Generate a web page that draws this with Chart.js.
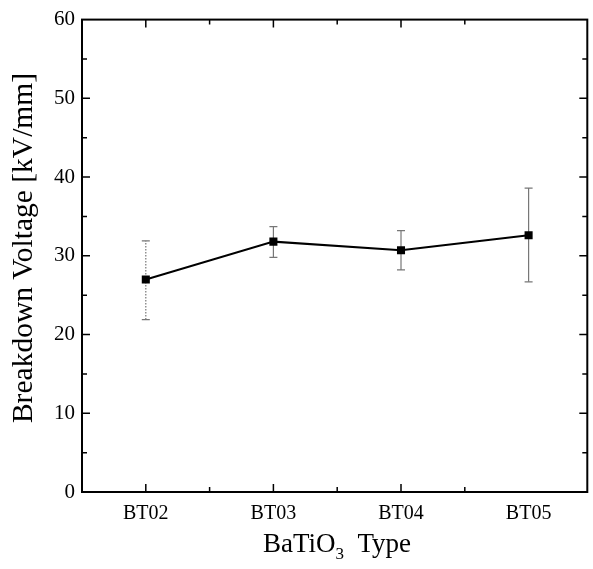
<!DOCTYPE html>
<html>
<head>
<meta charset="utf-8">
<script src="https://cdn.jsdelivr.net/npm/chart.js@4.4.1/dist/chart.umd.min.js"></script>
<style>
  body { margin: 0; background: #fff; }
  #wrap { width: 593px; height: 569px; }
</style>
</head>
<body>
<div id="wrap"><canvas id="myChart" width="593" height="569"></canvas></div>
<script>
// values
var types = ['BT02', 'BT03', 'BT04', 'BT05'];
var voltage = [27.0, 31.8, 30.7, 32.6];
var errLow = [21.9, 29.8, 28.2, 26.7];
var errHigh = [31.9, 33.7, 33.2, 38.6];
var yTicks = [0, 10, 20, 30, 40, 50, 60];

var serif = "'Liberation Serif', 'Times New Roman', serif";

// error bars, frame with inward ticks, axis titles
var extras = {
    id: 'extras',
    beforeDatasetsDraw: function (chart) {
        var ctx = chart.ctx, xs = chart.scales.x, ys = chart.scales.y;
        ctx.save();
        ctx.strokeStyle = '#777';
        ctx.lineWidth = 1.2;
        types.forEach(function (t, i) {
            var x = xs.getPixelForValue(i);
            var y1 = ys.getPixelForValue(errLow[i]);
            var y2 = ys.getPixelForValue(errHigh[i]);
            ctx.setLineDash(i === 0 ? [1.5, 1.5] : []);
            ctx.beginPath();
            ctx.moveTo(x, y1); ctx.lineTo(x, y2);
            ctx.stroke();
            ctx.setLineDash([]);
            ctx.beginPath();
            ctx.moveTo(x - 4, y1); ctx.lineTo(x + 4, y1);
            ctx.moveTo(x - 4, y2); ctx.lineTo(x + 4, y2);
            ctx.stroke();
        });
        ctx.restore();
    },
    afterDraw: function (chart) {
        var ctx = chart.ctx, a = chart.chartArea, xs = chart.scales.x, ys = chart.scales.y;
        ctx.save();
        ctx.strokeStyle = '#000';
        ctx.lineWidth = 2;
        ctx.strokeRect(a.left, a.top, a.right - a.left, a.bottom - a.top);

        ctx.lineWidth = 1.5;
        ctx.beginPath();
        for (var v = 0.5; v <= 3; v += 0.5) {
            var px = xs.getPixelForValue(v - 0.5);
            var len = Number.isInteger(v - 0.5) ? 8 : 5;
            ctx.moveTo(px, a.bottom); ctx.lineTo(px, a.bottom - len);
            ctx.moveTo(px, a.top); ctx.lineTo(px, a.top + len);
        }
        for (var yv = 5; yv < 60; yv += 5) {
            var py = ys.getPixelForValue(yv);
            var l2 = yv % 10 === 0 ? 8 : 5;
            ctx.moveTo(a.left, py); ctx.lineTo(a.left + l2, py);
            ctx.moveTo(a.right, py); ctx.lineTo(a.right - l2, py);
        }
        ctx.stroke();

        // x title with subscript
        ctx.fillStyle = '#000';
        ctx.textBaseline = 'alphabetic';
        ctx.textAlign = 'left';
        var big = '27px ' + serif, small = '17px ' + serif;
        ctx.font = big;
        var w1 = ctx.measureText('BaTiO').width;
        var w3 = ctx.measureText('  Type').width;
        ctx.font = small;
        var w2 = ctx.measureText('3').width;
        var x0 = 337 - (w1 + w2 + w3) / 2, base = 552;
        ctx.font = big;
        ctx.fillText('BaTiO', x0, base);
        ctx.font = small;
        ctx.fillText('3', x0 + w1, base + 7);
        ctx.font = big;
        ctx.fillText('  Type', x0 + w1 + w2, base);

        // y title
        ctx.translate(24, 248);
        ctx.rotate(-Math.PI / 2);
        ctx.textAlign = 'center';
        ctx.textBaseline = 'middle';
        ctx.font = '29.5px ' + serif;
        ctx.fillText('Breakdown Voltage [kV/mm]', 0, 0);
        ctx.restore();
    }
};

var ctx = document.getElementById('myChart').getContext('2d');
new Chart(ctx, {
    type: 'line',
    data: {
        datasets: [{
            data: voltage.map(function (v, i) { return { x: i, y: v }; }),
            borderColor: '#000',
            borderWidth: 2,
            backgroundColor: '#000',
            pointStyle: 'rect',
            pointRadius: 5.7,
            pointBorderWidth: 0,
            tension: 0
        }]
    },
    options: {
        responsive: false,
        animation: false,
        layout: { padding: { top: 17, right: 5, left: 0, bottom: 0 } },
        plugins: { legend: { display: false }, tooltip: { enabled: false } },
        scales: {
            x: {
                type: 'linear',
                min: -0.5,
                max: 3.46,
                grid: { display: false, drawTicks: false },
                border: { display: false },
                afterBuildTicks: function (scale) {
                    scale.ticks = types.map(function (t, i) { return { value: i }; });
                },
                afterFit: function (scale) { scale.height = 77; },
                ticks: {
                    padding: 10,
                    color: '#000',
                    font: { family: serif, size: 20 },
                    maxRotation: 0,
                    callback: function (value) { return types[value]; }
                }
            },
            y: {
                min: 0,
                max: 60,
                grid: { display: false, drawTicks: false },
                border: { display: false },
                afterBuildTicks: function (scale) {
                    scale.ticks = yTicks.map(function (v) { return { value: v }; });
                },
                afterFit: function (scale) { scale.width = 82; },
                ticks: {
                    padding: 7,
                    color: '#000',
                    font: { family: serif, size: 21 }
                }
            }
        }
    },
    plugins: [extras]
});
</script>
</body>
</html>
